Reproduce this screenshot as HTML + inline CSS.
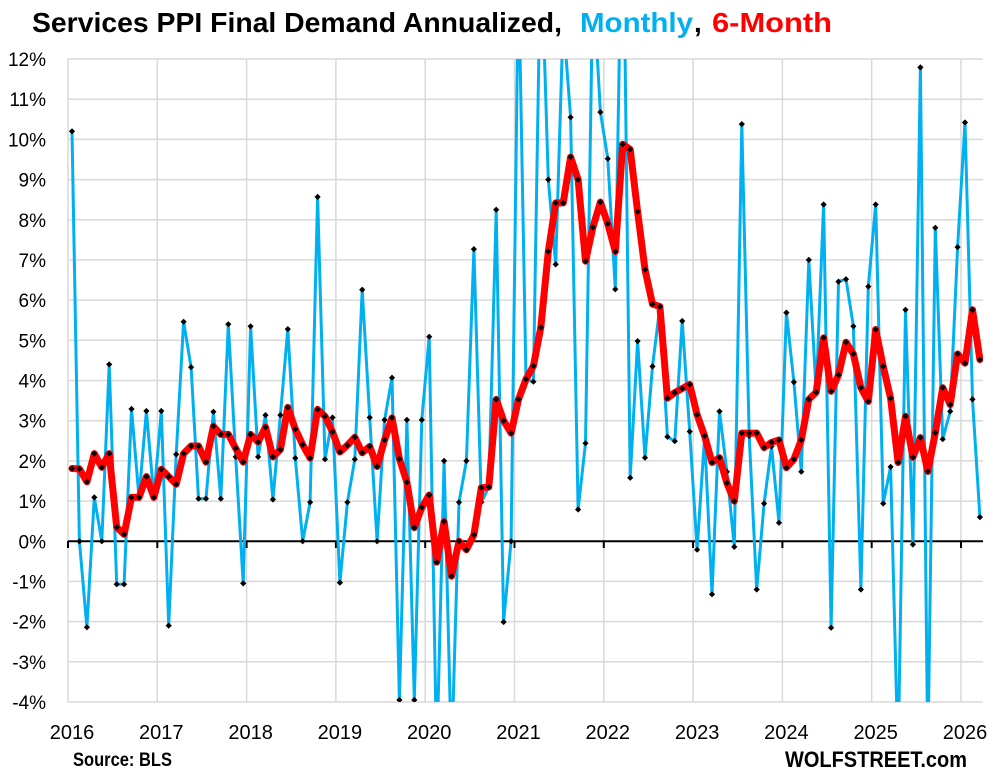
<!DOCTYPE html>
<html>
<head>
<meta charset="utf-8">
<style>
html,body{margin:0;padding:0;background:#fff;width:998px;height:776px;overflow:hidden;}
svg{display:block;overflow:hidden;}
text{font-family:"Liberation Sans",sans-serif;}
</style>
</head>
<body>
<svg width="998" height="776" viewBox="0 0 998 776" xmlns="http://www.w3.org/2000/svg">
<defs>
<clipPath id="pa"><rect x="68" y="59" width="915" height="643"/></clipPath>
<marker id="dm" markerUnits="userSpaceOnUse" markerWidth="8" markerHeight="8" viewBox="-4 -4 8 8" refX="0" refY="0" overflow="visible">
<path d="M0,-3.1 L3.1,0 L0,3.1 L-3.1,0Z" fill="#000"/>
</marker>
</defs>
<rect width="998" height="776" fill="#fff"/>

<!-- title -->
<text y="32" font-size="28" font-weight="bold">
<tspan x="32" textLength="530" lengthAdjust="spacingAndGlyphs" fill="#000">Services PPI Final Demand Annualized,</tspan>
<tspan x="580" textLength="113" lengthAdjust="spacingAndGlyphs" fill="#00B0F0">Monthly</tspan>
<tspan x="694" fill="#000">,</tspan>
<tspan x="712" textLength="120" lengthAdjust="spacingAndGlyphs" fill="#FF0000">6-Month</tspan>
</text>

<!-- horizontal gridlines -->
<g stroke="#d9d9d9" stroke-width="1.5">
<line x1="68" x2="983" y1="59" y2="59"/>
<line x1="68" x2="983" y1="99.2" y2="99.2"/>
<line x1="68" x2="983" y1="139.4" y2="139.4"/>
<line x1="68" x2="983" y1="179.6" y2="179.6"/>
<line x1="68" x2="983" y1="219.8" y2="219.8"/>
<line x1="68" x2="983" y1="259.9" y2="259.9"/>
<line x1="68" x2="983" y1="300.1" y2="300.1"/>
<line x1="68" x2="983" y1="340.3" y2="340.3"/>
<line x1="68" x2="983" y1="380.5" y2="380.5"/>
<line x1="68" x2="983" y1="420.7" y2="420.7"/>
<line x1="68" x2="983" y1="460.9" y2="460.9"/>
<line x1="68" x2="983" y1="501.1" y2="501.1"/>
<line x1="68" x2="983" y1="581.4" y2="581.4"/>
<line x1="68" x2="983" y1="621.6" y2="621.6"/>
<line x1="68" x2="983" y1="661.8" y2="661.8"/>
<line x1="68" x2="983" y1="702" y2="702"/>
</g>
<!-- vertical gridlines -->
<g stroke="#d9d9d9" stroke-width="1.5">
<line x1="68" x2="68" y1="59" y2="702"/>
<line x1="157.3" x2="157.3" y1="59" y2="702"/>
<line x1="246.6" x2="246.6" y1="59" y2="702"/>
<line x1="335.9" x2="335.9" y1="59" y2="702"/>
<line x1="425.2" x2="425.2" y1="59" y2="702"/>
<line x1="514.5" x2="514.5" y1="59" y2="702"/>
<line x1="603.8" x2="603.8" y1="59" y2="702"/>
<line x1="693.1" x2="693.1" y1="59" y2="702"/>
<line x1="782.4" x2="782.4" y1="59" y2="702"/>
<line x1="871.7" x2="871.7" y1="59" y2="702"/>
<line x1="961" x2="961" y1="59" y2="702"/>
</g>

<!-- zero axis -->
<g stroke="#000" stroke-width="2">
<line x1="68" x2="983" y1="541.3" y2="541.3"/>
<line x1="68" x2="68" y1="541" y2="548"/>
<line x1="157.3" x2="157.3" y1="541" y2="548"/>
<line x1="246.6" x2="246.6" y1="541" y2="548"/>
<line x1="335.9" x2="335.9" y1="541" y2="548"/>
<line x1="425.2" x2="425.2" y1="541" y2="548"/>
<line x1="514.5" x2="514.5" y1="541" y2="548"/>
<line x1="603.8" x2="603.8" y1="541" y2="548"/>
<line x1="693.1" x2="693.1" y1="541" y2="548"/>
<line x1="782.4" x2="782.4" y1="541" y2="548"/>
<line x1="871.7" x2="871.7" y1="541" y2="548"/>
<line x1="961" x2="961" y1="541" y2="548"/>
</g>

<!-- y labels -->
<g font-size="19" fill="#000" text-anchor="end">
<text x="46" y="66">12%</text>
<text x="46" y="106.2">11%</text>
<text x="46" y="146.4">10%</text>
<text x="46" y="186.6">9%</text>
<text x="46" y="226.8">8%</text>
<text x="46" y="266.9">7%</text>
<text x="46" y="307.1">6%</text>
<text x="46" y="347.3">5%</text>
<text x="46" y="387.5">4%</text>
<text x="46" y="427.7">3%</text>
<text x="46" y="467.9">2%</text>
<text x="46" y="508.1">1%</text>
<text x="46" y="548.3">0%</text>
<text x="46" y="588.4">-1%</text>
<text x="46" y="628.6">-2%</text>
<text x="46" y="668.8">-3%</text>
<text x="46" y="709">-4%</text>
</g>

<!-- x labels -->
<g font-size="20" fill="#000" text-anchor="middle">
<text x="72" y="739">2016</text>
<text x="161.3" y="739">2017</text>
<text x="250.6" y="739">2018</text>
<text x="339.9" y="739">2019</text>
<text x="429.2" y="739">2020</text>
<text x="518.5" y="739">2021</text>
<text x="607.8" y="739">2022</text>
<text x="697.1" y="739">2023</text>
<text x="786.4" y="739">2024</text>
<text x="875.7" y="739">2025</text>
<text x="965" y="739">2026</text>
</g>

<!-- series -->
<g clip-path="url(#pa)">
<polyline fill="none" stroke="#00B0F0" stroke-width="3" stroke-linejoin="round" marker-start="url(#dm)" marker-mid="url(#dm)" marker-end="url(#dm)" points="72.0,131.3 79.4,541.3 86.9,627.3 94.3,497.4 101.8,541.3 109.2,364.4 116.7,584.3 124.1,584.3 131.5,409.0 139.0,497.4 146.4,411.0 153.9,497.4 161.3,411.0 168.7,625.6 176.2,454.4 183.6,321.8 191.1,367.2 198.5,498.7 206.0,498.7 213.4,411.8 220.8,498.7 228.3,324.2 235.7,456.9 243.2,583.4 250.6,326.3 258.1,456.9 265.5,415.1 272.9,499.5 280.4,415.1 287.8,329.1 295.3,458.1 302.7,541.3 310.1,502.3 317.6,196.9 325.0,459.3 332.5,417.5 339.9,582.6 347.4,502.3 354.8,459.3 362.2,289.7 369.7,417.5 377.1,541.3 384.6,419.9 392.0,377.7 399.4,700.0 406.9,419.9 414.3,700.0 421.8,419.9 429.2,336.7 436.7,760 444.1,460.9 451.5,760 459.0,502.3 466.4,460.9 473.9,249.1 481.3,502.3 488.8,487.0 496.2,209.7 503.6,622.0 511.1,541.3 518.5,-29.4 526.0,379.3 533.4,381.7 540.8,-61.6 548.3,179.6 555.7,264.4 563.2,18.8 570.6,117.3 578.1,509.5 585.5,443.2 592.9,-21.4 600.4,112.1 607.8,158.7 615.3,289.3 622.7,-141.9 630.2,477.8 637.6,341.1 645.0,457.7 652.5,366.4 659.9,306.6 667.4,436.8 674.8,441.2 682.2,321.0 689.7,431.5 697.1,549.7 704.6,436.8 712.0,594.3 719.5,411.4 726.9,471.7 734.3,546.9 741.8,124.1 749.2,435.9 756.7,589.5 764.1,503.5 771.5,446.4 779.0,522.8 786.4,312.6 793.9,382.1 801.3,471.7 808.8,259.9 816.2,392.2 823.6,204.5 831.1,627.7 838.5,281.6 846.0,279.2 853.4,326.3 860.9,589.5 868.3,286.5 875.7,204.5 883.2,503.5 890.6,466.9 898.1,760 905.5,309.8 912.9,544.5 920.4,67.4 927.8,760 935.3,227.8 942.7,439.2 950.2,411.4 957.6,247.1 965.0,122.5 972.5,399.4 979.9,517.1"/>
<polyline fill="none" stroke="#FF0000" stroke-width="7" stroke-linejoin="round" stroke-linecap="round" marker-start="url(#dm)" marker-mid="url(#dm)" marker-end="url(#dm)" points="72.0,468.5 79.4,468.9 86.9,481.8 94.3,453.6 101.8,467.3 109.2,453.6 116.7,527.2 124.1,534.4 131.5,497.4 139.0,497.4 146.4,476.6 153.9,497.4 161.3,469.3 168.7,476.6 176.2,484.2 183.6,453.6 191.1,446.0 198.5,446.0 206.0,462.1 213.4,426.3 220.8,434.4 228.3,434.4 235.7,448.4 243.2,462.1 250.6,434.4 258.1,442.0 265.5,427.1 272.9,456.9 280.4,449.6 287.8,407.4 295.3,429.1 302.7,444.8 310.1,458.1 317.6,409.4 325.0,416.3 332.5,431.9 339.9,452.0 347.4,445.2 354.8,437.2 362.2,452.8 369.7,446.4 377.1,466.5 384.6,440.0 392.0,417.9 399.4,458.9 406.9,482.2 414.3,527.6 421.8,507.5 429.2,495.0 436.7,562.1 444.1,521.6 451.5,576.2 459.0,541.3 466.4,549.7 473.9,534.8 481.3,487.8 488.8,487.0 496.2,399.4 503.6,420.7 511.1,433.1 518.5,399.4 526.0,379.3 533.4,366.0 540.8,327.5 548.3,251.5 555.7,202.9 563.2,202.9 570.6,157.1 578.1,179.6 585.5,261.1 592.9,227.4 600.4,202.1 607.8,223.8 615.3,251.5 622.7,144.2 630.2,149.4 637.6,211.7 645.0,269.6 652.5,304.1 659.9,306.6 667.4,398.2 674.8,392.6 682.2,388.5 689.7,384.5 697.1,414.7 704.6,435.9 712.0,462.5 719.5,457.7 726.9,483.0 734.3,501.1 741.8,433.1 749.2,433.1 756.7,433.1 764.1,447.6 771.5,442.4 779.0,440.0 786.4,467.7 793.9,459.3 801.3,440.0 808.8,399.4 816.2,392.2 823.6,337.9 831.1,391.3 838.5,374.9 846.0,342.3 853.4,354.0 860.9,387.7 868.3,401.4 875.7,329.5 883.2,366.4 890.6,398.2 898.1,462.5 905.5,416.3 912.9,457.3 920.4,437.6 927.8,471.4 935.3,432.8 942.7,387.7 950.2,404.6 957.6,354.0 965.0,363.2 972.5,309.8 979.9,359.6"/>
</g>

<!-- footer -->
<text x="73" y="766" font-size="19" font-weight="bold" fill="#000" textLength="99" lengthAdjust="spacingAndGlyphs">Source: BLS</text>
<text x="785" y="767" font-size="22" font-weight="bold" fill="#000" textLength="182" lengthAdjust="spacingAndGlyphs">WOLFSTREET.com</text>
</svg>
</body>
</html>
